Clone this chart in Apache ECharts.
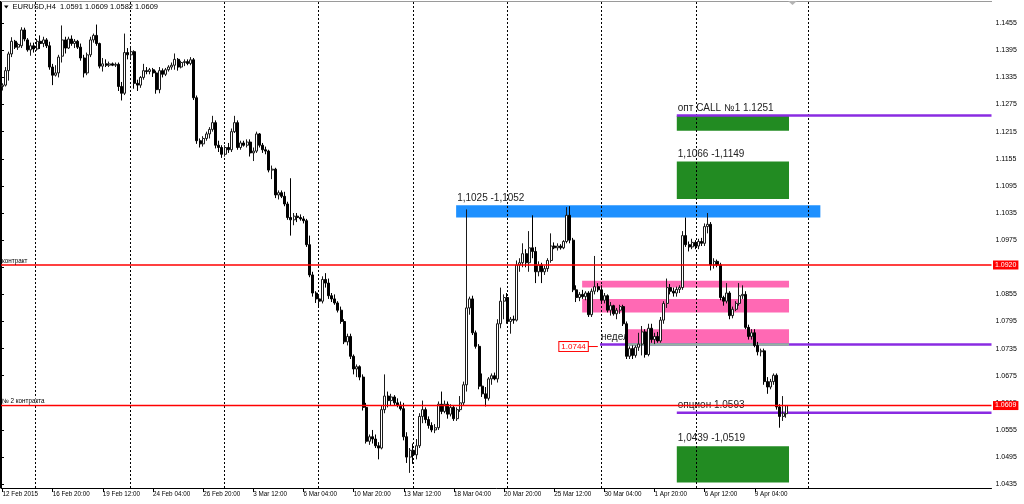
<!DOCTYPE html>
<html>
<head>
<meta charset="utf-8">
<script src="https://cdn.jsdelivr.net/npm/echarts@6.0.0/dist/echarts.min.js"></script>
<style>
html,body{margin:0;padding:0;background:#fff;}
#chart{width:1024px;height:504px;}
</style>
</head>
<body>
<div id="chart"></div>
<script>
// ---- EURUSD H4 bars (index 0 = 12 Feb 2015) ----
const open = [
1.1315,1.1318,1.1350,1.1387,1.1415,1.1402,1.1405,1.1440,1.1418,1.1396,
1.1405,1.1398,1.1415,1.1410,1.1418,1.1405,1.1358,1.1340,1.1345,1.1382,
1.1418,1.1400,1.1420,1.1410,1.1415,1.1402,1.1378,1.1345,1.1385,1.1418,
1.1428,1.1410,1.1360,1.1365,1.1362,1.1365,1.1362,1.1364,1.1315,1.1300,
1.1390,1.1385,1.1392,1.1322,1.1318,1.1335,1.1350,1.1348,1.1352,1.1345,
1.1308,1.1350,1.1342,1.1352,1.1358,1.1362,1.1375,1.1358,1.1368,1.1370,
1.1366,1.1374,1.1290,1.1195,1.1188,1.1200,1.1210,1.1220,1.1235,1.1185,
1.1180,1.1165,1.1180,1.1175,1.1215,1.1235,1.1180,1.1190,1.1185,1.1192,
1.1168,1.1172,1.1210,1.1185,1.1175,1.1172,1.1130,1.1132,1.1075,1.1080,
1.1072,1.1055,1.1025,1.1020,1.1028,1.1025,1.1022,1.1018,1.0965,1.0898,
1.0858,1.0845,1.0840,1.0888,1.0880,1.0852,1.0845,1.0836,1.0820,1.0795,
1.0750,1.0762,1.0718,1.0690,1.0695,1.0672,1.0605,1.0530,1.0540,1.0535,
1.0520,1.0515,1.0600,1.0630,1.0620,1.0628,1.0615,1.0610,1.0602,1.0540,
1.0495,1.0510,1.0500,1.0520,1.0585,1.0600,1.0578,1.0565,1.0555,1.0560,
1.0612,1.0596,1.0612,1.0590,1.0605,1.0580,1.0600,1.0615,1.0655,1.0825,
1.0845,1.0770,1.0740,1.0652,1.0635,1.0625,1.0668,1.0675,1.0668,1.0790,
1.0840,1.0848,1.0795,1.0800,1.0798,1.0920,1.0925,1.0945,1.0925,1.0958,
1.0950,1.0905,1.0920,1.0905,1.0912,1.0930,1.0962,1.0958,1.0962,1.0958,
1.0972,1.1030,1.0975,1.0865,1.0848,1.0855,1.0850,1.0858,1.0810,1.0862,
1.0872,1.0865,1.0842,1.0852,1.0820,1.0830,1.0812,1.0820,1.0828,1.0790,
1.0718,1.0735,1.0720,1.0738,1.0745,1.0772,1.0722,1.0780,1.0755,1.0762,
1.0752,1.0798,1.0835,1.0870,1.0862,1.0858,1.0866,1.0870,1.0985,1.0965,
1.0960,1.0970,1.0962,1.0972,1.0968,1.1005,1.1010,1.0920,1.0928,1.0920,
1.0848,1.0840,1.0858,1.0808,1.0822,1.0835,1.0852,1.0855,1.0782,1.0762,
1.0770,1.0742,1.0728,1.0730,1.0662,1.0650,1.0662,1.0676,1.0606,1.0585,1.0591
];
const high = [
1.1322,1.1358,1.1392,1.1424,1.1418,1.1412,1.1446,1.1445,1.1422,1.1412,
1.1412,1.1420,1.1428,1.1425,1.1422,1.1414,1.1365,1.1362,1.1385,1.1450,
1.1425,1.1425,1.1428,1.1420,1.1418,1.1410,1.1385,1.1390,1.1425,1.1432,
1.1452,1.1412,1.1378,1.1375,1.1370,1.1368,1.1368,1.1368,1.1325,1.1432,
1.1400,1.1400,1.1395,1.1330,1.1338,1.1365,1.1358,1.1356,1.1356,1.1350,
1.1358,1.1355,1.1356,1.1362,1.1368,1.1388,1.1378,1.1372,1.1375,1.1375,
1.1380,1.1378,1.1295,1.1200,1.1205,1.1215,1.1225,1.1250,1.1240,1.1195,
1.1185,1.1185,1.1190,1.1222,1.1250,1.1240,1.1195,1.1195,1.1198,1.1198,
1.1180,1.1215,1.1212,1.1190,1.1182,1.1175,1.1140,1.1135,1.1085,1.1085,
1.1082,1.1060,1.1112,1.1035,1.1035,1.1032,1.1028,1.1022,1.0985,1.0905,
1.0862,1.0855,1.0895,1.0902,1.0890,1.0858,1.0855,1.0840,1.0828,1.0800,
1.0768,1.0768,1.0722,1.0700,1.0698,1.0678,1.0615,1.0545,1.0555,1.0545,
1.0528,1.0610,1.0678,1.0640,1.0635,1.0632,1.0625,1.0618,1.0615,1.0550,
1.0515,1.0525,1.0535,1.0592,1.0620,1.0605,1.0585,1.0572,1.0568,1.0618,
1.0640,1.0620,1.0618,1.0612,1.0610,1.0605,1.0630,1.0662,1.1043,1.0850,
1.0852,1.0775,1.0745,1.0680,1.0650,1.0672,1.0680,1.0682,1.0800,1.0870,
1.0855,1.0858,1.0805,1.0808,1.0930,1.0935,1.0968,1.0955,1.0995,1.1030,
1.0960,1.0928,1.0925,1.0918,1.0935,1.0990,1.0970,1.0968,1.0966,1.0975,
1.1048,1.1050,1.0980,1.0875,1.0860,1.0865,1.0862,1.0862,1.0868,1.0940,
1.0880,1.0875,1.0858,1.0855,1.0838,1.0832,1.0825,1.0832,1.0832,1.0795,
1.0740,1.0742,1.0742,1.0770,1.0785,1.0778,1.0790,1.0790,1.0770,1.0772,
1.0805,1.0840,1.0890,1.0878,1.0870,1.0872,1.0875,1.0995,1.1025,1.0972,
1.0978,1.0975,1.0978,1.0980,1.1012,1.1035,1.1015,1.0935,1.0932,1.0925,
1.0852,1.0880,1.0862,1.0828,1.0840,1.0880,1.0875,1.0862,1.0788,1.0778,
1.0778,1.0750,1.0735,1.0735,1.0672,1.0668,1.0680,1.0680,1.0612,1.0630,1.0609
];
const low = [
1.1306,1.1315,1.1328,1.1380,1.1398,1.1396,1.1400,1.1415,1.1392,1.1383,
1.1390,1.1394,1.1398,1.1402,1.1400,1.1352,1.1318,1.1337,1.1335,1.1368,
1.1388,1.1398,1.1405,1.1400,1.1398,1.1372,1.1335,1.1340,1.1380,1.1412,
1.1405,1.1355,1.1348,1.1358,1.1358,1.1360,1.1358,1.1305,1.1284,1.1296,
1.1375,1.1378,1.1310,1.1305,1.1312,1.1330,1.1342,1.1342,1.1336,1.1299,
1.1300,1.1335,1.1338,1.1348,1.1352,1.1352,1.1350,1.1355,1.1360,1.1362,
1.1362,1.1285,1.1188,1.1180,1.1182,1.1195,1.1200,1.1215,1.1178,1.1170,
1.1157,1.1160,1.1168,1.1170,1.1212,1.1175,1.1175,1.1182,1.1180,1.1160,
1.1150,1.1168,1.1180,1.1168,1.1165,1.1125,1.1110,1.1068,1.1065,1.1068,
1.1050,1.1020,1.0985,1.1008,1.1015,1.1018,1.1012,1.0960,1.0893,1.0850,
1.0836,1.0825,1.0835,1.0870,1.0845,1.0838,1.0832,1.0815,1.0790,1.0745,
1.0742,1.0712,1.0678,1.0672,1.0665,1.0598,1.0525,1.0522,1.0525,1.0515,
1.0490,1.0512,1.0592,1.0605,1.0610,1.0608,1.0605,1.0598,1.0532,1.0482,
1.0460,1.0480,1.0490,1.0515,1.0570,1.0570,1.0558,1.0550,1.0548,1.0555,
1.0590,1.0592,1.0580,1.0585,1.0575,1.0575,1.0595,1.0608,1.0640,1.0810,
1.0765,1.0735,1.0645,1.0628,1.0607,1.0620,1.0655,1.0665,1.0660,1.0780,
1.0800,1.0790,1.0768,1.0790,1.0795,1.0905,1.0915,1.0915,1.0905,1.0935,
1.0880,1.0895,1.0880,1.0898,1.0905,1.0925,1.0955,1.0952,1.0954,1.0955,
1.0968,1.0968,1.0860,1.0838,1.0840,1.0845,1.0842,1.0805,1.0805,1.0855,
1.0860,1.0838,1.0835,1.0815,1.0808,1.0808,1.0800,1.0812,1.0785,1.0712,
1.0712,1.0712,1.0715,1.0730,1.0720,1.0715,1.0718,1.0748,1.0745,1.0748,
1.0748,1.0790,1.0825,1.0855,1.0850,1.0850,1.0858,1.0865,1.0960,1.0950,
1.0955,1.0955,1.0955,1.0962,1.0962,1.0990,1.0908,1.0912,1.0915,1.0842,
1.0830,1.0835,1.0800,1.0802,1.0818,1.0830,1.0845,1.0778,1.0755,1.0755,
1.0738,1.0720,1.0718,1.0655,1.0635,1.0645,1.0655,1.0600,1.0560,1.0575,1.0582
];
const close = [
1.1318,1.1350,1.1387,1.1415,1.1402,1.1408,1.1440,1.1420,1.1396,1.1405,
1.1398,1.1415,1.1410,1.1418,1.1405,1.1358,1.1340,1.1345,1.1380,1.1418,
1.1400,1.1420,1.1410,1.1415,1.1402,1.1378,1.1345,1.1385,1.1418,1.1428,
1.1410,1.1360,1.1365,1.1362,1.1365,1.1362,1.1364,1.1315,1.1300,1.1390,
1.1385,1.1392,1.1322,1.1318,1.1335,1.1350,1.1348,1.1352,1.1345,1.1308,
1.1350,1.1342,1.1352,1.1358,1.1362,1.1375,1.1358,1.1368,1.1370,1.1366,
1.1374,1.1290,1.1195,1.1188,1.1200,1.1210,1.1220,1.1235,1.1185,1.1180,
1.1165,1.1180,1.1175,1.1215,1.1235,1.1180,1.1190,1.1185,1.1192,1.1168,
1.1172,1.1210,1.1185,1.1175,1.1172,1.1130,1.1132,1.1075,1.1080,1.1072,
1.1055,1.1025,1.1020,1.1028,1.1025,1.1022,1.1018,1.0965,1.0898,1.0858,
1.0845,1.0840,1.0888,1.0880,1.0852,1.0845,1.0836,1.0820,1.0795,1.0750,
1.0762,1.0718,1.0690,1.0695,1.0672,1.0605,1.0530,1.0540,1.0535,1.0520,
1.0515,1.0600,1.0630,1.0620,1.0628,1.0615,1.0610,1.0602,1.0540,1.0495,
1.0510,1.0500,1.0520,1.0585,1.0600,1.0578,1.0565,1.0555,1.0560,1.0612,
1.0596,1.0612,1.0590,1.0605,1.0580,1.0600,1.0615,1.0655,1.0825,1.0845,
1.0770,1.0740,1.0652,1.0635,1.0625,1.0668,1.0675,1.0668,1.0790,1.0840,
1.0848,1.0795,1.0800,1.0798,1.0920,1.0925,1.0945,1.0925,1.0958,1.0950,
1.0905,1.0920,1.0905,1.0912,1.0930,1.0962,1.0958,1.0962,1.0958,1.0972,
1.1030,1.0975,1.0865,1.0848,1.0855,1.0850,1.0858,1.0810,1.0862,1.0872,
1.0865,1.0842,1.0852,1.0820,1.0830,1.0812,1.0820,1.0828,1.0790,1.0718,
1.0735,1.0720,1.0738,1.0745,1.0772,1.0722,1.0780,1.0755,1.0762,1.0752,
1.0798,1.0835,1.0870,1.0862,1.0858,1.0866,1.0870,1.0985,1.0965,1.0960,
1.0970,1.0962,1.0972,1.0968,1.1005,1.1010,1.0920,1.0928,1.0920,1.0848,
1.0840,1.0858,1.0808,1.0822,1.0835,1.0852,1.0855,1.0782,1.0762,1.0770,
1.0742,1.0728,1.0730,1.0662,1.0650,1.0662,1.0676,1.0606,1.0585,1.0592,1.0609
];

// ---- axis labels ----
const tickLabels = ['12 Feb 2015','16 Feb 20:00','19 Feb 12:00','24 Feb 04:00','26 Feb 20:00','3 Mar 12:00',
  '6 Mar 04:00','10 Mar 20:00','13 Mar 12:00','18 Mar 04:00','20 Mar 20:00','25 Mar 12:00',
  '30 Mar 04:00','1 Apr 20:00','6 Apr 12:00','9 Apr 04:00'];
const barsPerTick = 16;
const priceTicks = [1.1455,1.1395,1.1335,1.1275,1.1215,1.1155,1.1095,1.1035,1.0975,1.0915,
  1.0855,1.0795,1.0735,1.0675,1.0615,1.0555,1.0495,1.0435];
const weekStarts = [11, 41.1, 71.1, 101.2, 131.3, 161.3, 191.4, 221.6, 257.4]; // in bar units

// ---- drawn objects (bar units / prices) ----
const zoneFrom = [145.2, 215.6, 215.6, 215.6, 185.4, 185.4, 199.9];
const zoneTo   = [261.4, 251.4, 251.4, 251.4, 251.4, 251.4, 251.4];
const zoneLow  = [1.1025, 1.1217, 1.1066, 1.0439, 1.0870, 1.0815, 1.0745];
const zoneHigh = [1.1052, 1.1250, 1.1149, 1.0519, 1.0885, 1.0845, 1.0778];
const zoneKind = ['level', 'target', 'target', 'target', 'pink', 'pink', 'pink'];

const purpleLevels = [1.1251, 1.0744, 1.0593];
const purpleFrom   = [215.6, 191.1, 215.6];
const overlapFrom = 199.9, overlapTo = 251.4, overlapLevel = 1.0744;

const redLevels = [1.0920, 1.0609];
const redNames  = ['контракт', '№ 2 контракта'];

const textLabels = ['1,1025 -1,1052', 'опт CALL №1 1.1251', '1,1066 -1,1149', '1,0439 -1,0519', 'опцион 1.0593'];
const textBar    = [145.2, 215.6, 215.6, 215.6, 215.6];
const textPrice  = [1.1052, 1.1251, 1.1149, 1.0519, 1.0593];

const weekLabel = 'неделя 1.0744';
const weekLevel = 1.0744, weekBar = 191.1;
const priceTagBar = 190.4, priceTagLevel = 1.0744;

// ---- setup ----
const FONT = '"Liberation Sans", Arial, sans-serif';
const slotCount = 316;
const yMin = 1.04266, yMax = 1.15019;
const categories = Array.from({length: slotCount}, (_, i) => String(i));
const candleData = open.map((o, i) => [o, close[i], low[i], high[i]]);
const last = close.length - 1;
const zoneColor = {level: '#1e90ff', target: '#228b22', pink: '#ff69b4'};
const showTick = (i) => i % barsPerTick === 0 && i / barsPerTick < tickLabels.length;

const chart = echarts.init(document.getElementById('chart'), null, {renderer: 'canvas'});

const option = {
  animation: false,
  backgroundColor: '#ffffff',
  grid: {left: 1, right: 32.5, top: 2, bottom: 16, containLabel: false, outerBoundsMode: 'none'},
  xAxis: [
    {
      type: 'category', data: categories, boundaryGap: true,
      axisLine: {show: true, lineStyle: {color: '#000', width: 1}},
      axisTick: {show: true, interval: showTick, alignWithLabel: true, length: 4, lineStyle: {color: '#000'}},
      axisLabel: {
        interval: showTick, hideOverlap: false,
        formatter: (v, i) => tickLabels[i / barsPerTick] || '',
        align: 'left', fontSize: 6.3, color: '#000', fontFamily: FONT, margin: 3
      },
      splitLine: {show: false}
    },
    {type: 'value', min: 0, max: slotCount, show: false}
  ],
  yAxis: {
    type: 'value', position: 'right', min: yMin, max: yMax,
    axisLine: {show: true, lineStyle: {color: '#000', width: 1}},
    axisTick: {show: true, customValues: priceTicks, length: 3, lineStyle: {color: '#000'}},
    axisLabel: {customValues: priceTicks, formatter: (v) => v.toFixed(4), fontSize: 7, color: '#000', fontFamily: FONT, margin: 4},
    splitLine: {show: false}
  },
  graphic: [
    {type: 'line', z: 100, shape: {x1: 0, y1: 1.5, x2: 992, y2: 1.5}, style: {stroke: '#9a9a9a', lineWidth: 1}},
    {type: 'line', z: 100, shape: {x1: 0.5, y1: 1, x2: 0.5, y2: 488}, style: {stroke: '#000', lineWidth: 1}},
    {type: 'polygon', z: 100, shape: {points: [[4, 5.5], [8.5, 5.5], [6.25, 8.5]]}, style: {fill: '#000'}},
    {type: 'text', z: 100, left: 12.5, top: 3,
     style: {text: 'EURUSD,H4  ' + [open[last], high[last], low[last], close[last]].map(v => v.toFixed(4)).join(' '),
             font: '7.5px ' + FONT, fill: '#000'}},
    {type: 'polygon', z: 100, shape: {points: [[788, 1], [797, 1], [792.5, 5]]}, style: {fill: '#b4b4b4'}}
  ],
  series: [
    // week label under the zones
    {
      type: 'custom', xAxisIndex: 1, yAxisIndex: 0, z: 0.5, silent: true, clip: false,
      data: [[weekBar, weekLevel]],
      renderItem: (params, api) => {
        const p = api.coord([api.value(0), api.value(1)]);
        return {type: 'text', x: p[0] + 1, y: p[1] - 2.5,
          style: {text: weekLabel, font: '10px ' + FONT, fill: '#222', align: 'left', verticalAlign: 'bottom'}};
      }
    },
    // zones
    {
      type: 'custom', xAxisIndex: 1, yAxisIndex: 0, z: 1, silent: true, clip: false,
      encode: {x: [0, 1], y: [2, 3]},
      data: zoneFrom.map((f, i) => [f, zoneTo[i], zoneLow[i], zoneHigh[i]]),
      renderItem: (params, api) => {
        const a = api.coord([api.value(0), api.value(3)]);
        const b = api.coord([api.value(1), api.value(2)]);
        return {type: 'rect', shape: {x: a[0], y: a[1], width: b[0] - a[0], height: b[1] - a[1]},
          style: {fill: zoneColor[zoneKind[params.dataIndex]]}};
      }
    },
    // weekly dotted separators
    {
      type: 'custom', xAxisIndex: 1, yAxisIndex: 0, z: 1.5, silent: true, clip: false,
      data: weekStarts.map(v => [v, yMin]),
      renderItem: (params, api) => {
        const x = Math.round(api.coord([api.value(0), yMin])[0]) + 0.5;
        const top = api.coord([0, yMax])[1], bot = api.coord([0, yMin])[1];
        return {type: 'line', shape: {x1: x, y1: top, x2: x, y2: bot},
          style: {stroke: '#000', lineWidth: 1, lineDash: [2, 2]}};
      }
    },
    // purple level lines
    {
      type: 'custom', xAxisIndex: 1, yAxisIndex: 0, z: 2.4, silent: true, clip: false,
      data: purpleFrom.map((f, i) => [f, purpleLevels[i]]),
      renderItem: (params, api) => {
        const a = api.coord([api.value(0), api.value(1)]);
        const b = api.coord([slotCount, api.value(1)]);
        return {type: 'line', shape: {x1: a[0], y1: a[1], x2: b[0], y2: b[1]},
          style: {stroke: '#8a2be2', lineWidth: 2.5}};
      }
    },
    // purple line over pink zone (blended colour)
    {
      type: 'custom', xAxisIndex: 1, yAxisIndex: 0, z: 2.45, silent: true, clip: false,
      data: [[overlapFrom, overlapTo, overlapLevel]],
      renderItem: (params, api) => {
        const a = api.coord([api.value(0), api.value(2)]);
        const b = api.coord([api.value(1), api.value(2)]);
        return {type: 'line', shape: {x1: a[0], y1: a[1], x2: b[0], y2: b[1]},
          style: {stroke: '#94b49f', lineWidth: 2.5}};
      }
    },
    // candles
    {
      type: 'candlestick', xAxisIndex: 0, yAxisIndex: 0, z: 3,
      data: candleData, barWidth: 2.5,
      itemStyle: {color: '#ffffff', color0: '#000000', borderColor: '#1a1a1a', borderColor0: '#000000', borderWidth: 1},
      emphasis: {disabled: true}
    },
    // text objects
    {
      type: 'custom', xAxisIndex: 1, yAxisIndex: 0, z: 4, silent: true, clip: false,
      data: textBar.map((b, i) => [b, textPrice[i]]),
      renderItem: (params, api) => {
        const p = api.coord([api.value(0), api.value(1)]);
        return {type: 'text', x: p[0] + 1, y: p[1] - 2.5,
          style: {text: textLabels[params.dataIndex], font: '10px ' + FONT, fill: '#222', align: 'left', verticalAlign: 'bottom'}};
      }
    },
    // price tag 1.0744 at the left of the weekly line
    {
      type: 'custom', xAxisIndex: 1, yAxisIndex: 0, z: 4.5, silent: true, clip: false,
      data: [[priceTagBar, priceTagLevel]],
      renderItem: (params, api) => {
        const p = api.coord([api.value(0), api.value(1)]);
        const y = p[1] + 2;
        return {type: 'group', children: [
          {type: 'line', shape: {x1: p[0] - 10, y1: y, x2: p[0], y2: y}, style: {stroke: '#ff0000', lineWidth: 1}},
          {type: 'text', x: p[0] - 10, y: y,
           style: {text: api.value(1).toFixed(4), font: '8px ' + FONT, fill: '#ff0000', align: 'right', verticalAlign: 'middle',
                   backgroundColor: '#ffffff', borderColor: '#ff0000', borderWidth: 1, padding: [1, 2, 0, 2]}}
        ]};
      }
    },
    // red horizontal lines + axis tags + left captions
    {
      type: 'custom', xAxisIndex: 1, yAxisIndex: 0, z: 5, silent: true, clip: false,
      data: redLevels.map(v => [0, v]),
      renderItem: (params, api) => {
        const a = api.coord([0, api.value(1)]);
        const b = api.coord([slotCount, api.value(1)]);
        return {type: 'group', children: [
          {type: 'line', shape: {x1: a[0], y1: a[1], x2: b[0], y2: b[1]}, style: {stroke: '#ff0000', lineWidth: 1.5}},
          {type: 'text', x: a[0] + 1, y: a[1] - 1,
           style: {text: redNames[params.dataIndex], font: '6.3px ' + FONT, fill: '#000', align: 'left', verticalAlign: 'bottom',
                   backgroundColor: 'rgba(255,255,255,0.8)'}},
          {type: 'text', x: b[0] + 1.5, y: b[1],
           style: {text: api.value(1).toFixed(4), font: '7px ' + FONT, fill: '#ffffff', align: 'left', verticalAlign: 'middle',
                   backgroundColor: '#ff0000', padding: [1, 2, 1, 2]}}
        ]};
      }
    }
  ]
};
chart.setOption(option);
</script>
</body>
</html>
